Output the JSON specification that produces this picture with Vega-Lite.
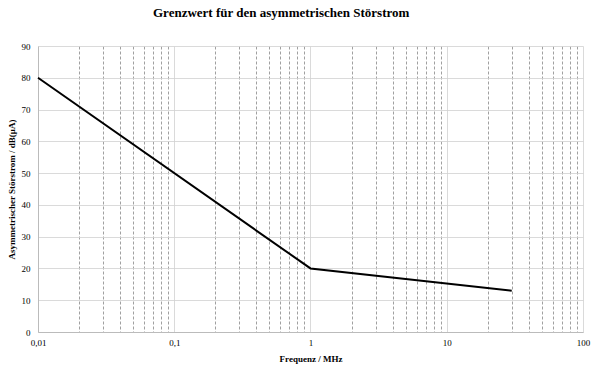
{
  "$schema": "https://vega.github.io/schema/vega-lite/v6.json",
  "width": 545,
  "height": 286,
  "autosize": "none",
  "padding": {"left": 38, "top": 46, "right": 18, "bottom": 42},
  "background": "white",
  "title": {
    "text": "Grenzwert für den asymmetrischen Störstrom",
    "anchor": "start",
    "dx": 146,
    "offset": 22,
    "font": "Liberation Serif",
    "fontSize": 13,
    "fontWeight": "bold",
    "color": "black"
  },
  "config": {
    "view": {"stroke": null},
    "axis": {
      "labelFont": "Liberation Serif",
      "titleFont": "Liberation Serif",
      "labelFontSize": 9,
      "titleFontSize": 9,
      "labelColor": "black",
      "titleColor": "black",
      "titleFontWeight": "bold"
    }
  },
  "data": {
    "values": [
      {"f": 0.01, "v": 80},
      {"f": 1, "v": 20},
      {"f": 30, "v": 13}
    ]
  },
  "mark": {"type": "line", "color": "black", "strokeWidth": 2},
  "encoding": {
    "x": {
      "field": "f",
      "type": "quantitative",
      "scale": {"type": "log", "domain": [0.01, 100], "nice": false},
      "axis": {
        "title": "Frequenz / MHz",
        "titlePadding": 7,
        "values": [0.01,0.02,0.03,0.04,0.05,0.06,0.07,0.08,0.09,0.1,0.2,0.3,0.4,0.5,0.6,0.7,0.8,0.9,1,2,3,4,5,6,7,8,9,10,20,30,40,50,60,70,80,90,100],
        "labelExpr": "abs(log(datum.value)/LN10 - round(log(datum.value)/LN10)) < 0.000001 ? replace(toString(datum.value), '.', ',') : ''",
        "ticks": false,
        "labelPadding": 6,
        "labelFlush": false,
        "domainColor": "#bbbbbb",
        "grid": true,
        "gridColor": {"condition": {"test": "abs(log(datum.value)/LN10 - round(log(datum.value)/LN10)) < 0.000001", "value": "#d0d0d0"}, "value": "#888888"},
        "gridDash": {"condition": {"test": "abs(log(datum.value)/LN10 - round(log(datum.value)/LN10)) < 0.000001", "value": []}, "value": [3, 2]},
        "gridWidth": 0.8
      }
    },
    "y": {
      "field": "v",
      "type": "quantitative",
      "scale": {"domain": [0, 90], "nice": false},
      "axis": {
        "title": "Asymmetrischer Störstrom / dB(µA)",
        "values": [0,10,20,30,40,50,60,70,80,90],
        "ticks": false,
        "labelPadding": 8,
        "titlePadding": 5,
        "domainColor": "#bbbbbb",
        "gridColor": "#d0d0d0",
        "gridWidth": 0.8
      }
    }
  }
}
